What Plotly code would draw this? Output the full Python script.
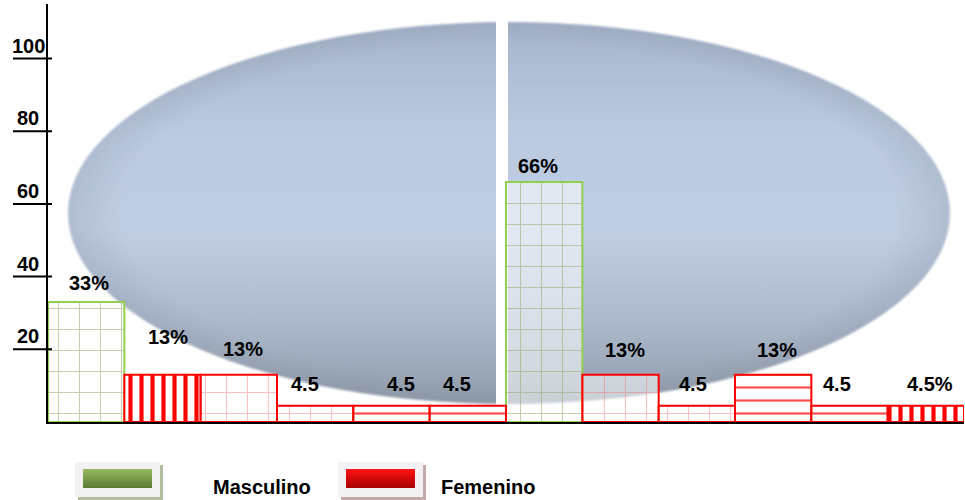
import base64
import plotly.graph_objects as go

# ---- data ---------------------------------------------------------------
groups = ["Masculino", "Femenino"]
bar_group = ["Masculino", "Femenino", "Femenino", "Femenino", "Femenino", "Femenino",
             "Masculino", "Femenino", "Femenino", "Femenino", "Femenino", "Femenino"]
bar_values = [33, 13, 13, 4.5, 4.5, 4.5, 66, 13, 4.5, 13, 4.5, 4.5]
bar_labels = ["33%", "13%", "13%", "4.5", "4.5", "4.5", "66%", "13%", "4.5", "13%", "4.5", "4.5%"]
y_ticks = [20, 40, 60, 80, 100]

# ---- styles -------------------------------------------------------------
# fill pattern of every bar, in the same order as the bars
bar_pattern = ["+", "|", "+", "+", "-", "-", "+", "+", "+", "-", "-", "|"]
group_style = {
    "Masculino": dict(line="#92d050", grid="rgba(150,170,105,0.55)",
                      swatch_top="#98b860", swatch_bot="#5c7a32", shadow="#b3bd9f"),
    "Femenino": dict(line="#ff0000", grid="rgba(235,120,120,0.45)",
                     dash="rgba(255,30,30,0.8)",
                     swatch_top="#ff1414", swatch_bot="#a80000", shadow="#c4a9a9"),
}
pattern_size = {"+": 21, "|": 11, "-": 13}
pattern_solidity = {"+": 0.1, "|": 0.38, "-": 0.17}
# pixel nudges of the value labels relative to the top of each bar
label_shift = [(3, 19), (5, 38), (4, 26), (-10, 22), (9, 22), (-11, 22),
               (-6, 16), (4, 25), (-4, 22), (4, 25), (-13, 22), (4, 22)]

FONT = "Liberation Sans, Arial, sans-serif"
W, H = 965, 500
L, R, T, B = 48, 1, 4, 78
PW, PH = W - L - R, H - T - B
Y_MAX = 115


def px_x(px):
    return (px - L) / PW


def px_y(py):
    return (H - B - py) / PH


def svg_uri(svg):
    return "data:image/svg+xml;base64," + base64.b64encode(svg.encode()).decode()


def fg_color(st, s):
    if s == "+":
        return st["grid"]
    if s == "-":
        return st.get("dash", st["line"])
    return st["line"]


fig = go.Figure()

for g in groups:
    idx = [i for i, gg in enumerate(bar_group) if gg == g]
    st = group_style[g]
    shapes = [bar_pattern[i] for i in idx]
    fig.add_trace(go.Bar(
        name=g,
        x=idx,
        y=[bar_values[i] for i in idx],
        width=1,
        marker=dict(
            color="rgba(255,255,255,0.55)",
            line=dict(color=st["line"], width=2),
            pattern=dict(
                shape=shapes,
                fillmode="overlay",
                fgopacity=1,
                fgcolor=[fg_color(st, s) for s in shapes],
                size=[pattern_size[s] for s in shapes],
                solidity=[pattern_solidity[s] for s in shapes],
            ),
        ),
        showlegend=False,
        hoverinfo="skip",
    ))

# value labels
annotations = []
for i, (v, lab) in enumerate(zip(bar_values, bar_labels)):
    dx, dy = label_shift[i]
    annotations.append(dict(
        x=i, y=v, xref="x", yref="y", text=lab, showarrow=False,
        xshift=dx, yshift=dy, yanchor="middle",
        font=dict(family=FONT, size=20, color="black", weight="bold"),
    ))

# y tick labels sitting on short underlines
shapes = []
for t in y_ticks:
    annotations.append(dict(
        x=px_x(28), y=t, xref="paper", yref="y", text=str(t), showarrow=False,
        xanchor="center", yanchor="bottom", yshift=0,
        font=dict(family=FONT, size=20, color="black", weight="bold"),
    ))
    shapes.append(dict(type="line", xref="paper", yref="y",
                       x0=px_x(13), x1=px_x(52), y0=t, y1=t,
                       line=dict(color="black", width=2)))

# backdrop: shaded ellipse split by a white gap
ell_w, ell_h = 886, 386
ellipse_svg = f"""<svg xmlns="http://www.w3.org/2000/svg" width="{ell_w}" height="{ell_h}" viewBox="0 0 {ell_w} {ell_h}" preserveAspectRatio="none">
<defs>
<linearGradient id="v" x1="0" y1="0" x2="0" y2="1">
<stop offset="0" stop-color="#a6b5cc"/>
<stop offset="0.3" stop-color="#bccbe1"/>
<stop offset="0.55" stop-color="#bfcde2"/>
<stop offset="0.8" stop-color="#aab7ca"/>
<stop offset="1" stop-color="#909cab"/>
</linearGradient>
<radialGradient id="r" cx="0.5" cy="0.5" r="0.5">
<stop offset="0.88" stop-color="#7a8595" stop-opacity="0"/>
<stop offset="1" stop-color="#7a8595" stop-opacity="0.22"/>
</radialGradient>
<filter id="b"><feGaussianBlur stdDeviation="1.2"/></filter>
</defs>
<g filter="url(#b)">
<ellipse cx="{ell_w/2}" cy="{ell_h/2}" rx="{ell_w/2-2}" ry="{ell_h/2-2}" fill="url(#v)"/>
<ellipse cx="{ell_w/2}" cy="{ell_h/2}" rx="{ell_w/2-2}" ry="{ell_h/2-2}" fill="url(#r)"/>
</g>
<rect x="430" y="0" width="12" height="{ell_h}" fill="white"/>
</svg>"""

images = [dict(source=svg_uri(ellipse_svg), xref="paper", yref="paper",
               x=px_x(66), y=px_y(20), sizex=ell_w / PW, sizey=ell_h / PH,
               xanchor="left", yanchor="top", sizing="stretch", layer="below")]

# legend: boxed gradient swatches with text
legend_pos = {"Masculino": (75, 262), "Femenino": (338, 488)}
for g in groups:
    st = group_style[g]
    sx, tx = legend_pos[g]
    sw_svg = f"""<svg xmlns="http://www.w3.org/2000/svg" width="88" height="38" viewBox="0 0 88 38" preserveAspectRatio="none">
<defs><linearGradient id="g" x1="0" y1="0" x2="0" y2="1">
<stop offset="0" stop-color="{st['swatch_top']}"/><stop offset="1" stop-color="{st['swatch_bot']}"/>
</linearGradient></defs>
<rect x="3" y="3" width="85" height="35" fill="{st['shadow']}"/>
<rect x="0" y="0" width="85" height="35" fill="#f2f2f2"/>
<rect x="8" y="7" width="69" height="19" fill="url(#g)"/>
</svg>"""
    images.append(dict(source=svg_uri(sw_svg), xref="paper", yref="paper",
                       x=px_x(sx), y=px_y(462), sizex=88 / PW, sizey=38 / PH,
                       xanchor="left", yanchor="top", sizing="stretch", layer="above"))
    annotations.append(dict(
        x=px_x(tx), y=px_y(487), xref="paper", yref="paper", text=g, showarrow=False,
        xanchor="center", yanchor="middle",
        font=dict(family=FONT, size=20, color="black", weight="bold"),
    ))

fig.update_layout(
    width=W, height=H,
    margin=dict(l=L, r=R, t=T, b=B, pad=0),
    paper_bgcolor="white",
    plot_bgcolor="rgba(0,0,0,0)",
    barmode="overlay",
    showlegend=False,
    xaxis=dict(range=[-0.5, 11.5], showgrid=False, zeroline=False,
               showticklabels=False, ticks="", showline=True,
               linecolor="black", linewidth=2, fixedrange=True),
    yaxis=dict(range=[0, Y_MAX], showgrid=False, zeroline=False,
               showticklabels=False, ticks="", showline=True,
               linecolor="black", linewidth=2, fixedrange=True),
    annotations=annotations,
    shapes=shapes,
    images=images,
)

fig.write_html("out.html", config={"displayModeBar": False})
